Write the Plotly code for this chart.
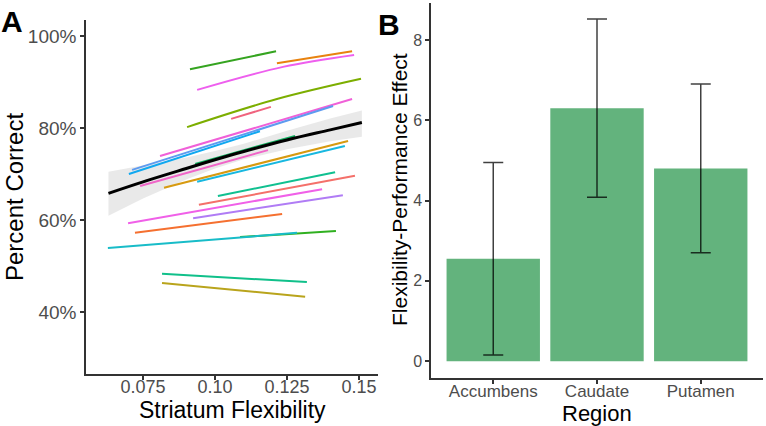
"""Two-panel figure: per-subject flexibility fits (A) and regional effects (B)."""

import plotly.graph_objects as go

_FONT = "Liberation Sans, Arial, Helvetica, sans-serif"
_AXIS = "#333333"
_TICK = "#4d4d4d"
_BAR = "#63B37D"

# ── Panel A data: per-subject fitted lines (x = striatum flexibility, y = % correct)
subj_x = [
    [0.0913, 0.1212],
    [0.1215, 0.1476],
    [0.0938, 0.1236, 0.1483],
    [0.0903, 0.1215, 0.1507],
    [0.1056, 0.1194],
    [0.0809, 0.1476],
    [0.0712, 0.1410],
    [0.0701, 0.1156],
    [0.0931, 0.1278],
    [0.0740, 0.1184],
    [0.0823, 0.1462],
    [0.0938, 0.1451],
    [0.1010, 0.1417],
    [0.0944, 0.1486],
    [0.0698, 0.1372],
    [0.0924, 0.1444],
    [0.0722, 0.1233],
    [0.1087, 0.1420],
    [0.0628, 0.1285],
    [0.0816, 0.1319],
    [0.0816, 0.1313],
]
subj_y = [
    [92.8, 96.7],
    [94.1, 96.7],
    [88.3, 93.3, 95.9],
    [80.2, 86.3, 90.7],
    [82.0, 84.6],
    [73.9, 86.3],
    [70.9, 84.8],
    [70.0, 79.3],
    [72.2, 78.3],
    [67.4, 75.2],
    [67.0, 77.2],
    [68.3, 76.1],
    [65.2, 70.4],
    [63.3, 69.6],
    [59.3, 66.7],
    [60.4, 65.4],
    [57.2, 61.3],
    [56.3, 57.6],
    [53.9, 57.2],
    [48.3, 46.5],
    [46.3, 43.3],
]
subj_colors = [
    "#35A420", "#E8820F", "#EE5FEE", "#7CAE00", "#F0637E", "#F060D8", "#5E9BF0",
    "#10A8F0", "#10B060", "#F065C8", "#D79A10", "#18B8E0", "#10C090", "#F4706A",
    "#F060E8", "#B07CF5", "#F57030", "#30B020", "#18BCC8", "#10C08A", "#B9A41C",
]

# group-level fit with confidence band
fit_x = [0.063, 0.075, 0.09, 0.10, 0.11, 0.125, 0.14, 0.151]
fit_y = [65.8, 68.3, 71.2, 73.1, 74.9, 77.4, 79.6, 81.2]
fit_lo = [60.9, 64.7, 68.8, 71.2, 73.2, 75.4, 77.1, 78.1]
fit_hi = [70.5, 71.9, 73.6, 75.0, 76.6, 79.4, 82.1, 83.8]

pct_ticks = [40, 60, 80, 100]
flex_ticks = [0.075, 0.10, 0.125, 0.15]
flex_labels = ["0.075", "0.10", "0.125", "0.15"]

# ── Panel B data
regions = ["Accumbens", "Caudate", "Putamen"]
effects = [2.55, 6.30, 4.80]
effect_err = [2.40, 2.22, 2.10]

fig = go.Figure()

# ribbon
fig.add_trace(go.Scatter(
    x=fit_x + fit_x[::-1], y=fit_hi + fit_lo[::-1],
    fill="toself", fillcolor="rgba(200,200,200,0.4)",
    line=dict(width=0), mode="lines", hoverinfo="skip",
    xaxis="x", yaxis="y", showlegend=False,
))
for xs, ys, c in zip(subj_x, subj_y, subj_colors):
    fig.add_trace(go.Scatter(
        x=xs, y=ys, mode="lines", line=dict(color=c, width=2, shape="spline"),
        xaxis="x", yaxis="y", showlegend=False,
    ))
fig.add_trace(go.Scatter(
    x=fit_x, y=fit_y, mode="lines", line=dict(color="black", width=3, shape="spline"),
    xaxis="x", yaxis="y", showlegend=False,
))

fig.add_trace(go.Bar(
    x=regions, y=effects, width=0.9, marker=dict(color=_BAR, line=dict(width=0)),
    error_y=dict(type="data", array=effect_err, color="rgba(0,0,0,0.75)",
                 thickness=1.5, width=10),
    xaxis="x2", yaxis="y2", showlegend=False,
))

axis_common = dict(
    showline=True, linecolor=_AXIS, linewidth=1.5,
    ticks="outside", ticklen=4, tickcolor=_AXIS, tickwidth=1.5,
    showgrid=False, zeroline=False, automargin=False,
)

annotations = [
    dict(text="<b>A</b>", x=12 / 766, y=1 - 22 / 426, font=dict(size=30, color="black")),
    dict(text="<b>B</b>", x=389 / 766, y=1 - 24 / 426, font=dict(size=30, color="black")),
    dict(text="Percent Correct", x=14 / 766, y=1 - 197 / 426, textangle=-90,
         font=dict(size=24, color="black")),
    dict(text="Striatum Flexibility", x=232 / 766, y=1 - 410 / 426,
         font=dict(size=23, color="black")),
    dict(text="Flexibility-Performance Effect", x=399 / 766, y=1 - 190 / 426, textangle=-90,
         font=dict(size=21, color="black")),
    dict(text="Region", x=597 / 766, y=1 - 413 / 426, font=dict(size=22, color="black")),
]
for a in annotations:
    a.update(xref="paper", yref="paper", showarrow=False, xanchor="center", yanchor="middle")

fig.update_layout(
    width=766, height=426,
    margin=dict(l=0, r=0, t=0, b=0),
    paper_bgcolor="white", plot_bgcolor="white",
    font=dict(family=_FONT),
    showlegend=False,
    xaxis=dict(
        **axis_common, domain=[86 / 766, 378 / 766], range=[0.0552, 0.1566],
        tickvals=flex_ticks, ticktext=flex_labels, ticklabelstandoff=-8,
        tickfont=dict(size=18, color=_TICK),
    ),
    yaxis=dict(
        **axis_common, domain=[52 / 426, 406 / 426], range=[26.5, 103.5],
        tickvals=pct_ticks, ticktext=[f"{v}%" for v in pct_ticks],
        tickfont=dict(size=19, color=_TICK),
    ),
    xaxis2=dict(
        **axis_common, domain=[431 / 766, 763 / 766], range=[-0.6, 2.6],
        type="category", anchor="y2", ticklabelstandoff=-7,
        tickfont=dict(size=17, color=_TICK),
    ),
    yaxis2=dict(
        **axis_common, domain=[48 / 426, 423 / 426], range=[-0.42, 8.92],
        tickvals=[0, 2, 4, 6, 8], anchor="x2",
        tickfont=dict(size=16, color=_TICK),
    ),
    annotations=annotations,
)

fig.write_html(
    "out.html",
    config={"displayModeBar": False},
    post_script="document.body.style.margin='0';",
)
